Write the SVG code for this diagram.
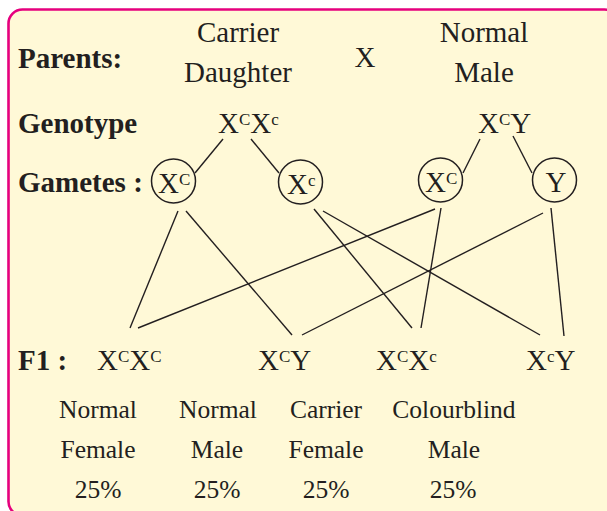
<svg xmlns="http://www.w3.org/2000/svg" width="607" height="511" viewBox="0 0 607 511">
<style>
text{font-family:"Liberation Serif","Times New Roman",serif;fill:#231f20;}
.b{font-weight:bold;font-size:29px;}
.t{font-size:29px;}
.m{font-size:29px;text-anchor:middle;}
.s{font-size:25.5px;text-anchor:middle;}
.sup{font-size:17px;}
.ln{stroke:#231f20;stroke-width:1.4;fill:none;}
.c{stroke:#231f20;stroke-width:1.5;fill:none;}
</style>
<rect x="8.5" y="9.5" width="610" height="506" rx="14" fill="#fff9d7" stroke="#e6007e" stroke-width="2.6"/>
<g id="labels">
<text class="b" x="18" y="68">Parents:</text>
<text class="b" x="18" y="133">Genotype</text>
<text class="b" x="18" y="192">Gametes :</text>
<text class="b" x="18" y="370">F1 :</text>
</g>
<g id="parent-female">
<text class="m" x="238" y="42">Carrier</text>
<text class="m" x="238" y="82">Daughter</text>
</g>
<text id="cross" class="m" x="365" y="67">X</text>
<g id="parent-male">
<text class="m" x="484" y="42">Normal</text>
<text class="m" x="484" y="82">Male</text>
</g>
<g id="genotype-female"><text class="t" x="218" y="133">X<tspan class="sup" dy="-8">C</tspan><tspan dy="8">X</tspan><tspan class="sup" dy="-8">c</tspan></text></g>
<g id="genotype-male"><text class="t" x="478" y="133">X<tspan class="sup" dy="-8">C</tspan><tspan dy="8">Y</tspan></text></g>
<g id="gamete1"><circle class="c" cx="173.5" cy="181" r="22"/><text class="t" x="158" y="193">X<tspan class="sup" dy="-8">C</tspan></text></g>
<g id="gamete2"><circle class="c" cx="300.5" cy="182" r="22"/><text class="t" x="287" y="194">X<tspan class="sup" dy="-8">c</tspan></text></g>
<g id="gamete3"><circle class="c" cx="440.5" cy="180" r="22"/><text class="t" x="425" y="192">X<tspan class="sup" dy="-8">C</tspan></text></g>
<g id="gamete4"><circle class="c" cx="554.5" cy="180" r="22"/><text class="m" x="556" y="192">Y</text></g>
<g id="connectors">
<line class="ln" x1="223" y1="139" x2="195" y2="173"/>
<line class="ln" x1="251" y1="139" x2="279" y2="173"/>
<line class="ln" x1="480" y1="139" x2="463" y2="173"/>
<line class="ln" x1="513" y1="136" x2="532" y2="173"/>
<line class="ln" x1="178" y1="211" x2="130" y2="328"/>
<line class="ln" x1="186" y1="211" x2="292" y2="335"/>
<line class="ln" x1="435" y1="209" x2="138" y2="328"/>
<line class="ln" x1="543" y1="213" x2="302" y2="335"/>
<line class="ln" x1="314" y1="209" x2="412" y2="328"/>
<line class="ln" x1="323" y1="211" x2="540" y2="335"/>
<line class="ln" x1="441" y1="208" x2="421" y2="328"/>
<line class="ln" x1="551" y1="208" x2="564" y2="336"/>
</g>
<g id="f1-1"><text class="t" x="97" y="370">X<tspan class="sup" dy="-8">C</tspan><tspan dy="8">X</tspan><tspan class="sup" dy="-8">C</tspan></text>
<text class="s" x="98" y="418">Normal</text><text class="s" x="98" y="458">Female</text><text class="s" x="98" y="498">25%</text></g>
<g id="f1-2"><text class="t" x="258" y="370">X<tspan class="sup" dy="-8">C</tspan><tspan dy="8">Y</tspan></text>
<text class="s" x="218" y="418">Normal</text><text class="s" x="217" y="458">Male</text><text class="s" x="217" y="498">25%</text></g>
<g id="f1-3"><text class="t" x="376" y="370">X<tspan class="sup" dy="-8">C</tspan><tspan dy="8">X</tspan><tspan class="sup" dy="-8">c</tspan></text>
<text class="s" x="326" y="418">Carrier</text><text class="s" x="326" y="458">Female</text><text class="s" x="326" y="498">25%</text></g>
<g id="f1-4"><text class="t" x="526" y="370">X<tspan class="sup" dy="-8">c</tspan><tspan dy="8">Y</tspan></text>
<text class="s" x="454" y="418">Colourblind</text><text class="s" x="454" y="458">Male</text><text class="s" x="453" y="498">25%</text></g>
</svg>
